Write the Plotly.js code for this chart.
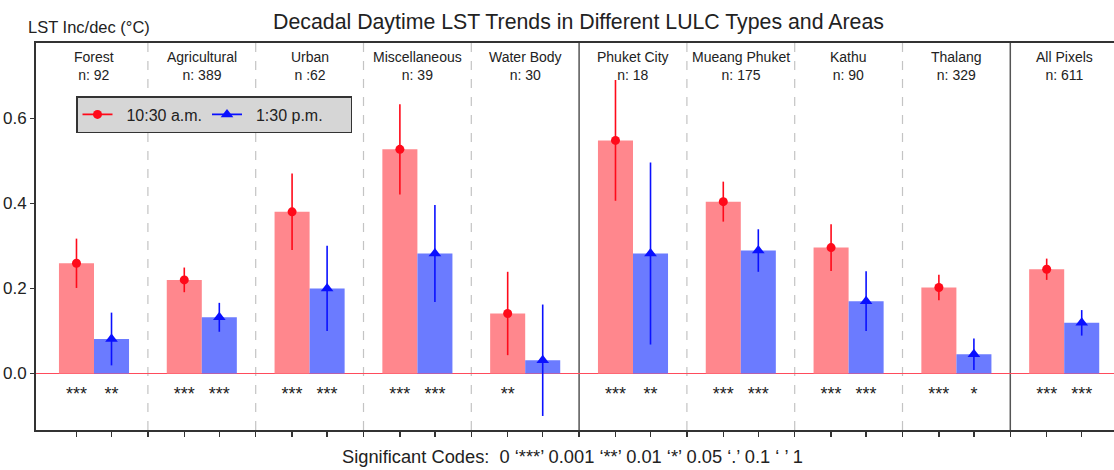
<!DOCTYPE html>
<html>
<head>
<meta charset="utf-8">
<script src="https://cdn.plot.ly/plotly-3.0.1.min.js"></script>
<style>html,body{margin:0;padding:0;background:#fff;}#chart{width:1114px;height:470px;}</style>
</head>
<body>
<div id="chart"></div>
<script>
// ---- data ----
const groups = ['Forest','Agricultural','Urban','Miscellaneous','Water Body','Phuket City','Mueang Phuket','Kathu','Thalang','All Pixels'];
const nLabels = ['n: 92','n: 389','n :62','n: 39','n: 30','n: 18','n: 175','n: 90','n: 329','n: 611'];
const amValues = [0.259,0.220,0.380,0.527,0.141,0.548,0.404,0.296,0.202,0.245];
const amErrors = [0.058,0.029,0.090,0.106,0.098,0.142,0.047,0.055,0.030,0.025];
const pmValues = [0.081,0.132,0.200,0.282,0.031,0.282,0.289,0.170,0.045,0.119];
const pmErrors = [0.062,0.034,0.100,0.114,0.131,0.214,0.050,0.070,0.037,0.030];
const amSig = ['***','***','***','***','**','***','***','***','***','***'];
const pmSig = ['**','***','***','***','','**','***','***','*','***'];
const seriesNames = ['10:30 a.m.','1:30 p.m.'];
const yTicks = [0.0,0.2,0.4,0.6];
const yTickText = ['0.0','0.2','0.4','0.6'];
const solidDividersAfter = ['Water Body','Thalang'];

// ---- styling ----
const FONT = 'Liberation Sans, Arial, Helvetica, sans-serif';
const RED = '#ff0a1a', BLUE = '#0a10ff';
const RED_BAR = '#ff878d', BLUE_BAR = '#6b7bff';
const idx = groups.map((g,i)=>i);
const BARGAP = 0.35;
const half = (1-BARGAP)/4; // offset of each bar centre from group centre
const SIG_Y = -0.051;
const NB = '\u00a0';

const traces = [];
traces.push({type:'bar', x:idx, y:amValues, offsetgroup:'am', alignmentgroup:'a', marker:{color:RED_BAR, line:{width:0}}, showlegend:false, hoverinfo:'skip'});
traces.push({type:'bar', x:idx, y:pmValues, offsetgroup:'pm', alignmentgroup:'a', marker:{color:BLUE_BAR, line:{width:0}}, showlegend:false, hoverinfo:'skip'});
traces.push({type:'scatter', mode:'markers', x:idx, y:amValues, offsetgroup:'am', alignmentgroup:'a',
  marker:{color:RED, size:9, symbol:'circle'}, error_y:{type:'data', array:amErrors, visible:true, color:RED, thickness:1.6, width:0}, showlegend:false});
traces.push({type:'scatter', mode:'markers', x:idx, y:pmValues, offsetgroup:'pm', alignmentgroup:'a',
  marker:{color:BLUE, size:11, symbol:'triangle-up'}, error_y:{type:'data', array:pmErrors, visible:true, color:BLUE, thickness:1.6, width:0}, showlegend:false});
traces.push({type:'scatter', mode:'text', x:idx, y:idx.map(()=>SIG_Y), text:amSig, offsetgroup:'am', alignmentgroup:'a',
  textfont:{family:FONT, size:18, color:'#222'}, textposition:'middle center', showlegend:false, hoverinfo:'skip'});
traces.push({type:'scatter', mode:'text', x:idx, y:idx.map(()=>SIG_Y), text:pmSig, offsetgroup:'pm', alignmentgroup:'a',
  textfont:{family:FONT, size:18, color:'#222'}, textposition:'middle center', showlegend:false, hoverinfo:'skip'});
// legend entries
traces.push({type:'scatter', mode:'lines+markers', x:[null], y:[null], name:NB+NB+seriesNames[0], line:{color:RED, width:1.6}, marker:{color:RED, size:9, symbol:'circle'}});
traces.push({type:'scatter', mode:'lines+markers', x:[null], y:[null], name:NB+NB+seriesNames[1]+NB+NB+NB+NB+NB, line:{color:BLUE, width:1.6}, marker:{color:BLUE, size:11, symbol:'triangle-up'}});

// ticks at bar centres and group dividers
const xTicks = [];
idx.forEach(i=>{ xTicks.push(i-half, i+half); if(i<idx.length-1) xTicks.push(i+0.5); });

const shapes = [];
idx.slice(0,-1).forEach(i=>{
  const solid = solidDividersAfter.includes(groups[i]);
  shapes.push({type:'line', xref:'x', yref:'paper', x0:i+0.5, x1:i+0.5, y0:0, y1:1, layer:'below',
    line:{color: solid ? '#555' : '#c4c4c4', width: solid ? 1.5 : 1.2, dash: solid ? 'solid' : 'dash'}});
});

const annotations = groups.map((g,i)=>({
  x:i, xref:'x', y:0.9406, yref:'paper', yanchor:'middle', xanchor:'center', showarrow:false,
  text: g + '<br>' + nLabels[i], font:{family:FONT, size:14, color:'#222'}
}));

const layout = {
  width:1114, height:470,
  margin:{l:36, r:0, t:43, b:40},
  paper_bgcolor:'#fff', plot_bgcolor:'#fff',
  font:{family:FONT, color:'#222'},
  barmode:'group', bargap:BARGAP, bargroupgap:0,
  scattermode:'group', scattergap:BARGAP,
  title:{text:'Decadal Daytime LST Trends in Different LULC Types and Areas', font:{family:FONT, size:21.3, color:'#222'},
    x:(578.5-36)/1078, xref:'paper', xanchor:'center', y:1-22/470, yref:'container', yanchor:'middle'},
  xaxis:{type:'linear', range:[-0.538, 9.462], showgrid:false, zeroline:false, showline:true, linecolor:'#333', linewidth:2, mirror:true,
    ticks:'outside', ticklen:5, tickwidth:1.5, tickcolor:'#333', tickmode:'array', tickvals:xTicks, showticklabels:false},
  yaxis:{range:[-0.133, 0.777], showgrid:false, zeroline:true, zerolinecolor:'#ff4b5c', zerolinewidth:1.6,
    showline:true, linecolor:'#333', linewidth:2, ticks:'outside', ticklen:4, tickwidth:1.5, tickcolor:'#333',
    tickmode:'array', tickvals:yTicks, ticktext:yTickText, tickfont:{family:FONT, size:17, color:'#222'}},
  legend:{orientation:'h', x:(76-36)/1078, xanchor:'left', y:(430-96)/387, yanchor:'top', bgcolor:'#d6d6d6', bordercolor:'#333', borderwidth:1.5,
    font:{family:FONT, size:16, color:'#222'}},
  shapes: shapes,
  annotations: annotations.concat([
    {xref:'paper', yref:'paper', x:-10/1078, xanchor:'left', y:(430-27)/387, yanchor:'middle', showarrow:false,
     text:'LST Inc/dec (°C)', font:{family:FONT, size:16.5, color:'#222'}},
    {xref:'paper', yref:'paper', x:(572-36)/1078, xanchor:'center', y:-(457-430)/387, yanchor:'middle', showarrow:false,
     text:'Significant Codes:  0 ‘***’ 0.001 ‘**’ 0.01 ‘*’ 0.05 ‘.’ 0.1 ‘ ’ 1', font:{family:FONT, size:18.3, color:'#222'}}
  ])
};

Plotly.newPlot('chart', traces, layout, {displayModeBar:false, staticPlot:true});
</script>
</body>
</html>
